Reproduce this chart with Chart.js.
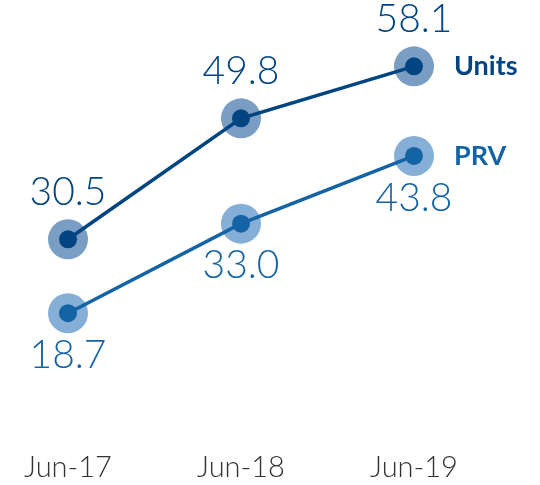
<!DOCTYPE html>
<html>
<head>
<meta charset="UTF-8">
<title>Units and PRV</title>
<script src="https://cdn.jsdelivr.net/npm/chart.js"></script>
<style>
  html, body { margin: 0; padding: 0; background: #fff; }
  #wrap { width: 540px; height: 485px; position: relative; }
</style>
</head>
<body>
<div id="wrap"><canvas id="chart"></canvas></div>
<script>
// data
const periods = ['Jun-17', 'Jun-18', 'Jun-19'];
const unitsValues = [30.5, 49.8, 58.1];
const prvValues = [18.7, 33.0, 43.8];
const seriesNames = ['Units', 'PRV'];

const navy = '#004481';
const blue = '#1464A5';

// draws value labels and series names next to the last point
const labelPlugin = {
  id: 'valueLabels',
  afterDatasetsDraw(chart) {
    const ctx = chart.ctx;
    ctx.save();
    ctx.textBaseline = 'middle';
    chart.data.datasets.forEach((ds, i) => {
      if (!ds.showLabels) return;
      const meta = chart.getDatasetMeta(i);
      ctx.fillStyle = ds.labelColor;
      ctx.textAlign = 'center';
      ctx.font = '300 39px Lato, "Open Sans", sans-serif';
      meta.data.forEach((pt, j) => {
        ctx.fillText(ds.data[j].toFixed(1), pt.x, pt.y + ds.labelOffset);
      });
      const last = meta.data[meta.data.length - 1];
      ctx.textAlign = 'left';
      ctx.font = 'bold 27px Lato, "Open Sans", sans-serif';
      ctx.fillText(ds.label, last.x + 40, last.y);
    });
    ctx.restore();
  }
};

const ctx = document.getElementById('chart').getContext('2d');
new Chart(ctx, {
  type: 'line',
  data: {
    labels: periods,
    datasets: [
      {
        label: seriesNames[0], data: unitsValues,
        borderColor: navy, borderWidth: 3.5,
        pointRadius: 9, pointBackgroundColor: navy, pointBorderWidth: 0,
        showLabels: true, labelColor: navy, labelOffset: -47, order: 1
      },
      {
        label: seriesNames[1], data: prvValues,
        borderColor: blue, borderWidth: 3.5,
        pointRadius: 9, pointBackgroundColor: blue, pointBorderWidth: 0,
        showLabels: true, labelColor: blue, labelOffset: 42, order: 1
      },
      {
        label: 'unitsHalo', data: unitsValues, showLine: false,
        pointRadius: 20, pointBackgroundColor: '#7a9ec3', pointBorderWidth: 0, order: 2
      },
      {
        label: 'prvHalo', data: prvValues, showLine: false,
        pointRadius: 20, pointBackgroundColor: '#86afd7', pointBorderWidth: 0, order: 2
      }
    ]
  },
  options: {
    responsive: true,
    maintainAspectRatio: false,
    animation: false,
    layout: { padding: { left: 68, right: 126, top: 0, bottom: 0 } },
    plugins: { legend: { display: false }, tooltip: { enabled: false } },
    scales: {
      x: {
        offset: false,
        grid: { display: false, drawTicks: false },
        border: { display: false },
        ticks: {
          color: '#333',
          padding: 0,
          font: { family: 'Lato, "Open Sans", sans-serif', size: 29, weight: 300 }
        }
      },
      y: {
        display: false,
        min: -3.16,
        max: 65.5
      }
    }
  },
  plugins: [labelPlugin]
});
</script>
</body>
</html>
